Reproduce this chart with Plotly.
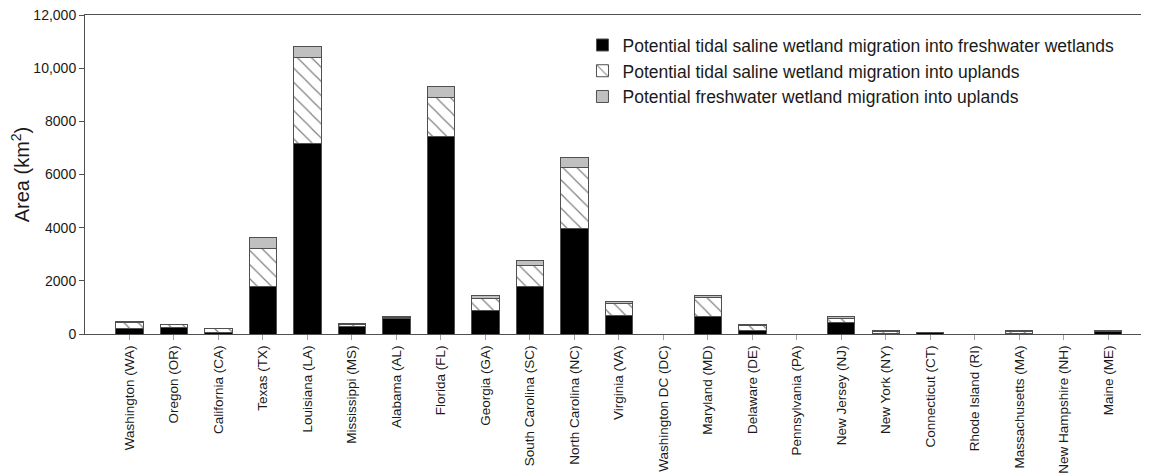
import plotly.graph_objects as go

states = ["Washington (WA)", "Oregon (OR)", "California (CA)", "Texas (TX)", "Louisiana (LA)",
          "Mississippi (MS)", "Alabama (AL)", "Florida (FL)", "Georgia (GA)", "South Carolina (SC)",
          "North Carolina (NC)", "Virginia (VA)", "Washington DC (DC)", "Maryland (MD)", "Delaware (DE)",
          "Pennsylvania (PA)", "New Jersey (NJ)", "New York (NY)", "Connecticut (CT)", "Rhode Island (RI)",
          "Massachusetts (MA)", "New Hampshire (NH)", "Maine (ME)"]

saline_into_fresh = [190, 250, 40, 1780, 7170, 300, 590, 7420, 880, 1805,
                     3970, 680, 0, 650, 125, 0, 440, 15, 50, 0, 20, 0, 100]
saline_into_upland = [260, 100, 150, 1455, 3235, 60, 30, 1465, 460, 790,
                      2295, 460, 0, 740, 180, 0, 160, 70, 10, 0, 80, 0, 10]
fresh_into_upland = [10, 20, 10, 400, 400, 30, 20, 425, 115, 160,
                     375, 75, 0, 50, 45, 0, 50, 55, 5, 0, 50, 0, 5]

legend_names = ["Potential tidal saline wetland migration into freshwater wetlands",
                "Potential tidal saline wetland migration into uplands",
                "Potential freshwater wetland migration into uplands"]

ytick_vals = [0, 2000, 4000, 6000, 8000, 10000, 12000]
ytick_text = ["0", "2000", "4000", "6000", "8000", "10,000", "12,000"]

FONT = "Liberation Sans, Arial, sans-serif"
edge = dict(color="#505050", width=1)

fig = go.Figure()
fig.add_trace(go.Bar(x=states, y=saline_into_fresh, name=legend_names[0],
                     marker=dict(color="#000000", line=edge)))
fig.add_trace(go.Bar(x=states, y=saline_into_upland, name=legend_names[1],
                     marker=dict(color="#ffffff", line=edge,
                                 pattern=dict(shape="\\", fgcolor="#000000", bgcolor="#ffffff",
                                              size=10, solidity=0.12))))
fig.add_trace(go.Bar(x=states, y=fresh_into_upland, name=legend_names[2],
                     marker=dict(color="#c0c0c0", line=edge)))

fig.update_layout(
    barmode="stack",
    bargap=0.39,
    width=1149, height=475,
    margin=dict(l=77, r=1, t=7, b=149, autoexpand=False),
    paper_bgcolor="white", plot_bgcolor="white",
    font=dict(family=FONT, size=14, color="#1a1a1a"),
    showlegend=True,
    legend=dict(x=0.4645, y=0.962, xanchor="left", yanchor="top",
                font=dict(size=17.5, family=FONT, color="#1a1a1a"),
                bgcolor="rgba(0,0,0,0)", tracegroupgap=0, traceorder="normal"),
    xaxis=dict(range=[-1, 23.07], tickangle=-90, showline=True, linecolor="#505050",
               linewidth=1, mirror=True, ticks="outside", ticklen=5, tickcolor="#a0a0a0",
               showgrid=False, automargin=False, ticklabeloverflow="allow",
               tickfont=dict(size=13.5, family=FONT)),
    yaxis=dict(range=[0, 12000], tickvals=ytick_vals, ticktext=ytick_text, showline=True,
               linecolor="#505050", linewidth=1, ticks="outside", ticklen=5, tickcolor="#505050",
               showgrid=False, zeroline=False, automargin=False, ticklabeloverflow="allow",
               tickfont=dict(size=14, family=FONT),
               title=dict(text="Area (km<sup>2</sup>)", font=dict(size=20, family=FONT),
                          standoff=0)),
)

fig.write_html("out.html")
